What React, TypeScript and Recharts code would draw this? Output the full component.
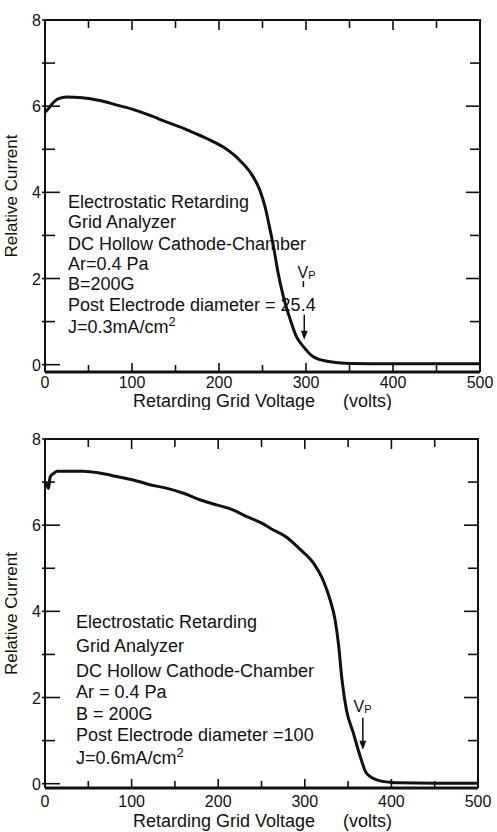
import React from 'react';
import { LineChart, Line, XAxis, YAxis, ReferenceLine, ReferenceDot } from 'recharts';

const FONT = '"Liberation Sans", Arial, sans-serif';
const INK = '#111';

// upper panel: post electrode 25.4
const voltsA = [0, 3, 8, 15, 25, 40, 63, 82, 100, 120, 140, 160, 170, 186, 205, 224, 238, 247, 253, 258, 263, 268, 274, 282, 289, 297, 308, 324, 350, 400, 450, 500];
const currentA = [5.86, 5.92, 6.05, 6.17, 6.21, 6.2, 6.13, 6.03, 5.93, 5.79, 5.63, 5.48, 5.39, 5.25, 5.05, 4.74, 4.4, 4.05, 3.66, 3.2, 2.7, 2.12, 1.58, 1.04, 0.65, 0.42, 0.19, 0.08, 0.03, 0.02, 0.02, 0.02];

// lower panel: post electrode 100
const voltsB = [0, 2, 4, 6, 10, 14, 25, 44, 63, 83, 102, 121, 140, 160, 179, 198, 214, 233, 252, 260, 279, 294, 310, 321, 329, 335, 339, 343, 348, 356, 364, 371, 383, 400, 410, 450, 500];
const currentB = [7.0, 6.95, 6.85, 7.12, 7.2, 7.25, 7.25, 7.25, 7.21, 7.13, 7.05, 6.94, 6.86, 6.74, 6.59, 6.47, 6.38, 6.2, 6.03, 5.93, 5.72, 5.45, 5.12, 4.73, 4.28, 3.8, 3.22, 2.4, 1.72, 1.18, 0.63, 0.25, 0.09, 0.03, 0.02, 0.01, 0.01];

const xTicks = [0, 50, 100, 150, 200, 250, 300, 350, 400, 450, 500];
const yTicks = [0, 1, 2, 3, 4, 5, 6, 7, 8];

const notesA = [
  'Electrostatic Retarding',
  'Grid Analyzer',
  'DC Hollow Cathode-Chamber',
  'Ar=0.4 Pa',
  'B=200G',
  'Post Electrode diameter = 25.4',
  'J=0.3mA/cm',
];
const notesB = [
  'Electrostatic Retarding',
  'Grid Analyzer',
  'DC Hollow Cathode-Chamber',
  'Ar = 0.4 Pa',
  'B = 200G',
  'Post Electrode diameter =100',
  'J=0.6mA/cm',
];

// plasma potential markers (volts / relative current)
const vpA = { v: 298, top: 1.16, tip: 0.58, labelV: 296, labelY: 2.01, tick: [1.8, 1.94] };
const vpB = { v: 367, top: 1.53, tip: 0.79, labelV: 362, labelY: 1.67, tick: null as number[] | null };

const toRows = (xs: number[], ys: number[]) => xs.map((v, i) => ({ v, c: ys[i] }));

const BottomTick = ({ x, y, payload, labelDy }: any) => {
  const major = payload.value % 100 === 0;
  return (
    <g>
      <line x1={x} x2={x} y1={y} y2={y - (major ? 9 : 7)} stroke={INK} strokeWidth={1.6} />
      {major && (
        <text x={x} y={y + labelDy} textAnchor="middle" fontSize={16} fontFamily={FONT} fill={INK}>
          {payload.value}
        </text>
      )}
    </g>
  );
};

const LeftTick = ({ x, y, payload }: any) => {
  const major = payload.value % 2 === 0;
  return (
    <g>
      <line x1={x - 3} x2={x + (major ? 15 : 10)} y1={y} y2={y} stroke={INK} strokeWidth={1.6} />
      {major && (
        <text x={x - 4} y={y + 6} textAnchor="end" fontSize={16} fontFamily={FONT} fill={INK}>
          {payload.value}
        </text>
      )}
    </g>
  );
};

const ArrowHead = ({ cx, cy }: any) => (
  <path d={`M${cx},${cy} L${cx - 3.5},${cy - 9} L${cx + 3.5},${cy - 9} Z`} fill={INK} />
);

const VpLabel = ({ cx, cy }: any) => (
  <text x={cx - 5} y={cy} fontSize={16} fontFamily={FONT} fill={INK}>
    V<tspan fontSize={11} dy={1}>P</tspan>
  </text>
);

type PanelProps = {
  rows: { v: number; c: number }[];
  height: number;
  axisH: number;
  right: number;
  yMin: number;
  labelDy: number;
  titleY: number;
  notes: string[];
  notesX: number;
  notesY: number[];
  vp: typeof vpA;
};

function Panel({ rows, height, axisH, right, yMin, labelDy, titleY, notes, notesX, notesY, vp }: PanelProps) {
  // plot box
  const left = 45;
  const top = 20;
  const rightEdge = 497 - right;
  const plotBottom = height - axisH;
  const plotMid = (top + plotBottom) / 2;
  const px = (v: number) => left + (v / 500) * (rightEdge - left);
  const py = (c: number) => top + ((8 - c) / (8 - yMin)) * (plotBottom - top);
  return (
    <div style={{ position: 'relative', width: 497, height }}>
      <LineChart width={497} height={height} data={rows} margin={{ top, right, bottom: 0, left: 0 }}>
        <XAxis
          dataKey="v"
          type="number"
          domain={[0, 500]}
          ticks={xTicks}
          interval={0}
          allowDataOverflow
          height={axisH}
          tickSize={0}
          tickMargin={0}
          tickLine={false}
          axisLine={{ stroke: INK, strokeWidth: 3 }}
          tick={<BottomTick labelDy={labelDy} />}
        />
        <YAxis
          type="number"
          domain={[yMin, 8]}
          ticks={yTicks}
          interval={0}
          allowDataOverflow
          width={45}
          tickSize={0}
          tickMargin={0}
          tickLine={false}
          axisLine={{ stroke: INK, strokeWidth: 2 }}
          tick={<LeftTick />}
        />
        <Line
          dataKey="c"
          type="monotone"
          stroke={INK}
          strokeWidth={3}
          dot={false}
          isAnimationActive={false}
        />
        <ReferenceLine
          segment={[
            { x: vp.v, y: vp.top },
            { x: vp.v, y: vp.tip + 0.1 },
          ]}
          stroke={INK}
          strokeWidth={1.5}
        />
        {vp.tick && (
          <ReferenceLine
            segment={[
              { x: vp.v - 1, y: vp.tick[0] },
              { x: vp.v - 1, y: vp.tick[1] },
            ]}
            stroke={INK}
            strokeWidth={1.5}
          />
        )}
        <ReferenceDot x={vp.v} y={vp.tip} r={0} shape={<ArrowHead />} />
        <ReferenceDot x={vp.labelV} y={vp.labelY} r={0} shape={<VpLabel />} />
        <text
          transform={`translate(17, ${plotMid}) rotate(-90)`}
          textAnchor="middle"
          fontSize={17}
          fontFamily={FONT}
          fill={INK}
        >
          Relative Current
        </text>
        <text x={133} y={titleY} fontSize={18} fontFamily={FONT} fill={INK}>
          Retarding Grid Voltage
        </text>
        <text x={343} y={titleY} fontSize={18} fontFamily={FONT} fill={INK}>
          (volts)
        </text>
        <g fontSize={18} fontFamily={FONT} fill={INK}>
          {notes.map((line, i) => (
            <text key={i} x={notesX} y={notesY[i]}>
              {line}
              {i === notes.length - 1 && (
                <tspan fontSize={13} dy={-7}>
                  2
                </tspan>
              )}
            </text>
          ))}
        </g>
      </LineChart>
      {/* top and right edges of the frame, ticks pointing inward */}
      <svg
        width={497}
        height={height}
        style={{ position: 'absolute', left: 0, top: 0, pointerEvents: 'none' }}
      >
        <g stroke={INK} fill="none">
          <path d={`M${left},${top} H${rightEdge} V${plotBottom}`} strokeWidth={2} />
          {xTicks.slice(1, -1).map((t) => (
            <line
              key={`t${t}`}
              x1={px(t)}
              x2={px(t)}
              y1={top}
              y2={top + (t % 100 === 0 ? 10 : 8)}
              strokeWidth={1.6}
            />
          ))}
          {yTicks.slice(1, -1).map((t) => (
            <line
              key={`r${t}`}
              x1={rightEdge}
              x2={rightEdge - (t % 2 === 0 ? 14 : 10)}
              y1={py(t)}
              y2={py(t)}
              strokeWidth={1.6}
            />
          ))}
        </g>
      </svg>
    </div>
  );
}

export default function App() {
  return (
    <div style={{ position: 'absolute', left: 0, top: 0, width: 497, height: 832, background: '#fff' }}>
      <div style={{ position: 'absolute', left: 0, top: 0 }}>
        <Panel
          rows={toRows(voltsA, currentA)}
          height={410}
          axisH={38}
          right={17}
          yMin={-0.17}
          labelDy={16}
          titleY={407}
          notes={notesA}
          notesX={68}
          notesY={[208, 228, 250, 270, 290, 311, 333]}
          vp={vpA}
        />
      </div>
      <div style={{ position: 'absolute', left: 0, top: 419 }}>
        <Panel
          rows={toRows(voltsB, currentB)}
          height={413}
          axisH={44}
          right={19}
          yMin={-0.1}
          labelDy={19}
          titleY={408}
          notes={notesB}
          notesX={76}
          notesY={[209, 233, 258, 279, 301, 322, 345]}
          vp={vpB}
        />
      </div>
    </div>
  );
}
